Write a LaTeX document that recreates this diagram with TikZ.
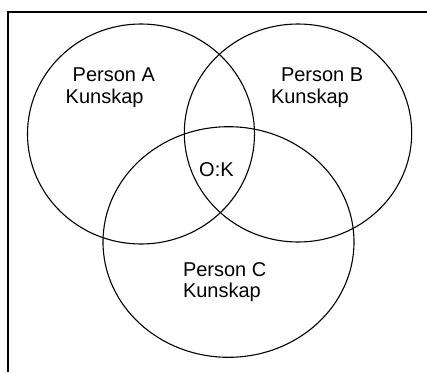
\documentclass[tikz,border=0pt]{standalone}
\usepackage{fontspec}
\setmainfont{Liberation Sans}
\begin{document}
\begin{tikzpicture}[x=1pt,y=-1pt,
  ring/.style={draw=black,line width=1.1pt},
  lbl/.style={anchor=base west,inner sep=0pt,font=\fontsize{20}{24}\selectfont}]
\useasboundingbox (0,0) rectangle (427,372);
\draw[line width=1.1pt] (8,372) -- (8,12) -- (427,12);
\draw[ring] (141,134) ellipse [x radius=113.5, y radius=110];
\draw[ring] (298,133) ellipse [x radius=113.7, y radius=109];
\draw[ring] (228.5,242) ellipse [x radius=125.5, y radius=115.3];
\node[lbl] (pa) at (72.5,81.7) {Person A};
\node[lbl] (ka) at (65.5,103.3) {Kunskap};
\node[lbl] (pb) at (280.8,81.7) {Person B};
\node[lbl] (kb) at (270.8,103.3) {Kunskap};
\node[lbl] (pc) at (182.8,276) {Person C};
\node[lbl] (kc) at (182.8,297.5) {Kunskap};
\node[lbl] (ok) at (199,176.7) {O:K};
\end{tikzpicture}
\end{document}
